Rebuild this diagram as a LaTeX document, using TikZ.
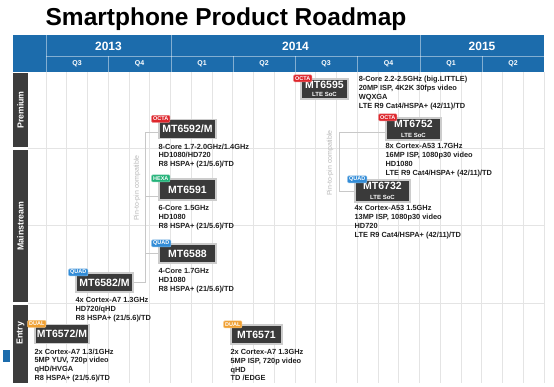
\documentclass[tikz,border=0pt]{standalone}
\usepackage{fontspec}
\setmainfont{Liberation Sans}
\usetikzlibrary{calc}
\definecolor{hdrblue}{RGB}{28,108,172}
\definecolor{boxgray}{RGB}{58,58,58}
\definecolor{bargray}{RGB}{60,60,60}
\definecolor{octared}{RGB}{222,38,44}
\definecolor{hexagreen}{RGB}{34,178,120}
\definecolor{quadblue}{RGB}{50,140,215}
\definecolor{dualorange}{RGB}{240,160,50}
\definecolor{gridgray}{RGB}{228,228,228}
\definecolor{linkgray}{RGB}{200,200,200}
\definecolor{spectext}{RGB}{30,30,30}
\begin{document}
\begin{tikzpicture}[x=1pt,y=-1pt,
  chip/.style={fill=boxgray, draw=gray!40, line width=1.2pt, text=white, font=\bfseries\fontsize{10.5}{11}\selectfont, inner sep=0pt, minimum height=19pt, align=center},
  chiptag/.style={fill=#1, draw=#1!60!white, line width=0.5pt, rounded corners=1pt, text=white, font=\bfseries\fontsize{5.5}{6}\selectfont, inner xsep=1.5pt, inner ysep=0pt, minimum height=7pt, anchor=west},
  spec/.style={anchor=north west, inner sep=0pt, align=left, text=spectext, font=\bfseries\fontsize{7.4}{8.8}\selectfont},
  rowlabel/.style={rotate=90, text=white, font=\bfseries\fontsize{8.8}{9}\selectfont},
  yearlabel/.style={text=white, font=\bfseries\fontsize{12}{13}\selectfont},
  qlabel/.style={text=white, font=\bfseries\fontsize{7}{8}\selectfont},
  pinlabel/.style={rotate=90, text=gray!55, font=\fontsize{7}{8}\selectfont},
  link/.style={draw=linkgray, line width=0.8pt},
  hdrline/.style={draw=white, draw opacity=0.45, line width=0.6pt},
  gridline/.style={draw=gridgray, line width=0.6pt},
]
\fill[white] (0,0) rectangle (554,386);
\useasboundingbox (0,0) rectangle (554,386);

% title
\node[anchor=base, font=\bfseries\fontsize{24.5}{26}\selectfont] (title) at (226,25) {Smartphone Product Roadmap};

% grid
\foreach \i in {0,...,24} \draw[gridline] ({46+\i*20.75},72) -- ({46+\i*20.75},383);
\foreach \yy in {148,225,303} \draw[gridline] (28,\yy) -- (544,\yy);

% header
\fill[hdrblue] (13,35) rectangle (544,72);
\draw[hdrline] (46,35) -- (46,72);
\draw[hdrline] (171,35) -- (171,72);
\draw[hdrline] (420,35) -- (420,72);
\draw[hdrline] (46,56) -- (544,56);
\foreach \xx in {108,233,295,357,482} \draw[hdrline] (\xx,56) -- (\xx,72);
\node[yearlabel] (y13) at (108.5,46) {2013};
\node[yearlabel] (y14) at (295.5,46) {2014};
\node[yearlabel] (y15) at (482,46) {2015};
\node[qlabel] (q1) at (77,64) {Q3};
\node[qlabel] (q2) at (139.5,64) {Q4};
\node[qlabel] (q3) at (202,64) {Q1};
\node[qlabel] (q4) at (264,64) {Q2};
\node[qlabel] (q5) at (326,64) {Q3};
\node[qlabel] (q6) at (388.5,64) {Q4};
\node[qlabel] (q7) at (451,64) {Q1};
\node[qlabel] (q8) at (513,64) {Q2};

% row bars
\fill[bargray] (13,73) rectangle (28,147);
\fill[bargray] (13,150) rectangle (28,302);
\fill[bargray] (13,305) rectangle (28,383);
\node[rowlabel] (rp) at (20.5,110) {Premium};
\node[rowlabel] (rm) at (20.5,226) {Mainstream};
\node[rowlabel] (re) at (20.5,333) {Entry};
\fill[hdrblue] (3,350) rectangle (10,362);

% chips
\node[chip, minimum width=57pt] (b6592) at (187.5,129) {MT6592/M};
\node[chip, minimum width=57pt, minimum height=21pt] (b6591) at (187.5,189.5) {MT6591};
\node[chip, minimum width=57pt] (b6588) at (187.5,253.5) {MT6588};
\node[chip, minimum width=57pt] (b6582) at (104.5,282.5) {MT6582/M};
\node[chip, minimum width=54pt] (b6572) at (62,334) {MT6572/M};
\node[chip, minimum width=51pt] (b6571) at (256.5,334.5) {MT6571};
\node[chip, minimum width=47pt, minimum height=20pt] (b6595) at (324.5,89) {MT6595\\[-2.5pt]{\fontsize{6}{6}\selectfont LTE SoC}};
\node[chip, minimum width=55pt, minimum height=22pt] (b6752) at (413.5,129) {MT6752\\[-1.5pt]{\fontsize{6}{6}\selectfont LTE SoC}};
\node[chip, minimum width=55pt, minimum height=22pt] (b6732) at (382.5,191) {MT6732\\[-1.5pt]{\fontsize{6}{6}\selectfont LTE SoC}};

% pin-to-pin links
\coordinate (lx) at (145,0);
\coordinate (rx) at (339,0);
\draw[link] ([yshift=-3pt]b6592.west) -- ([yshift=-3pt]b6592.west -| lx) -- (b6582.east -| lx) -- (b6582.east);
\draw[link] ([yshift=-7pt]b6591.west) -- ([yshift=-7pt]b6591.west -| lx);
\draw[link] (b6588.west) -- (b6588.west -| lx);
\draw[link] ([yshift=-3pt]b6752.west) -- ([yshift=-3pt]b6752.west -| rx) -- (b6732.west -| rx) -- (b6732.west);
\node[pinlabel] (pinL) at (137,188) {Pin-to-pin compatible};
\node[pinlabel] (pinR) at (330,163) {Pin-to-pin compatible};

% tags
\node[chiptag=octared] (t6592) at ([xshift=-7pt]b6592.north west) {OCTA};
\node[chiptag=hexagreen] (t6591) at ([xshift=-7pt]b6591.north west) {HEXA};
\node[chiptag=quadblue] (t6588) at ([xshift=-7pt]b6588.north west) {QUAD};
\node[chiptag=quadblue] (t6582) at ([xshift=-7pt]b6582.north west) {QUAD};
\node[chiptag=dualorange] (t6572) at ([xshift=-7pt]b6572.north west) {DUAL};
\node[chiptag=dualorange] (t6571) at ([xshift=-7pt]b6571.north west) {DUAL};
\node[chiptag=octared] (t6595) at ([xshift=-7pt]b6595.north west) {OCTA};
\node[chiptag=octared] (t6752) at ([xshift=-7pt]b6752.north west) {OCTA};
\node[chiptag=quadblue] (t6732) at ([xshift=-7pt]b6732.north west) {QUAD};

% specs
\node[spec] (s6592) at ([yshift=-4.5pt]b6592.south west) {8-Core 1.7-2.0GHz/1.4GHz\\HD1080/HD720\\R8 HSPA+ (21/5.6)/TD};
\node[spec] (s6591) at ([yshift=-4.5pt]b6591.south west) {6-Core 1.5GHz\\HD1080\\R8 HSPA+ (21/5.6)/TD};
\node[spec] (s6588) at ([yshift=-4.5pt]b6588.south west) {4-Core 1.7GHz\\HD1080\\R8 HSPA+ (21/5.6)/TD};
\node[spec] (s6582) at ([yshift=-4.5pt]b6582.south west) {4x Cortex-A7 1.3GHz\\HD720/qHD\\R8 HSPA+ (21/5.6)/TD};
\node[spec] (s6572) at ([yshift=-4.5pt]b6572.south west) {2x Cortex-A7 1.3/1GHz\\5MP YUV, 720p video\\qHD/HVGA\\R8 HSPA+ (21/5.6)/TD};
\node[spec] (s6571) at ([yshift=-4.5pt]b6571.south west) {2x Cortex-A7 1.3GHz\\5MP ISP, 720p video\\qHD\\TD /EDGE};
\node[spec] (s6595) at ([xshift=10pt,yshift=2pt]b6595.north east) {8-Core 2.2-2.5GHz (big.LITTLE)\\20MP ISP, 4K2K 30fps video\\WQXGA\\LTE R9 Cat4/HSPA+ (42/11)/TD};
\node[spec] (s6752) at ([yshift=-3pt]b6752.south west) {8x Cortex-A53 1.7GHz\\16MP ISP, 1080p30 video\\HD1080\\LTE R9 Cat4/HSPA+ (42/11)/TD};
\node[spec] (s6732) at ([yshift=-3pt]b6732.south west) {4x Cortex-A53 1.5GHz\\13MP ISP, 1080p30 video\\HD720\\LTE R9 Cat4/HSPA+ (42/11)/TD};
\end{tikzpicture}
\end{document}
